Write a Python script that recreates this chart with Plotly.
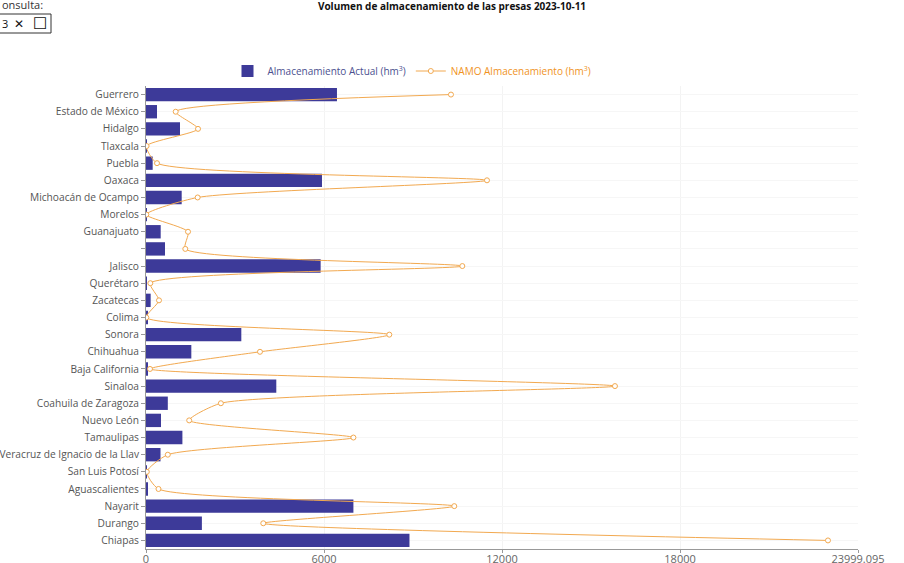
import plotly.graph_objects as go

# categories listed bottom to top (plotly draws first category at the bottom)
estados = [
    "Chiapas", "Durango", "Nayarit", "Aguascalientes", "San Luis Potosí",
    "Veracruz de Ignacio de la Llav", "Tamaulipas", "Nuevo León",
    "Coahuila de Zaragoza", "Sinaloa", "Baja California", "Chihuahua",
    "Sonora", "Colima", "Zacatecas", "Querétaro", "Jalisco", " ",
    "Guanajuato", "Morelos", "Michoacán de Ocampo", "Oaxaca", "Puebla",
    "Tlaxcala", "Hidalgo", "Estado de México", "Guerrero",
]
almacenamiento_actual = [
    8881, 1884, 6991, 60, 5,
    489, 1227, 505,
    735, 4392, 45, 1528,
    3213, 40, 157, 30, 5887, 640,
    495, 8, 1203, 5932, 225,
    30, 1146, 371, 6437,
]
namo_almacenamiento = [
    22987, 3953, 10391, 421, 27,
    735, 6991, 1456,
    2524, 15807, 135, 3842,
    8201, 10, 438, 146, 10662, 1325,
    1416, 10, 1741, 11493, 371,
    20, 1753, 1001, 10280,
]
x_max = 23999.095
x_ticks = [0, 6000, 12000, 18000, x_max]
x_tick_labels = ["0", "6000", "12000", "18000", "23999.095"]

W, H = 904, 563
L, R, T, B = 146, 858, 86, 549

def px(x):
    return (x - L) / (R - L)

def py(y):
    return (B - y) / (B - T)

FONT = "Open Sans, Noto Sans, sans-serif"

fig = go.Figure()
fig.add_trace(go.Bar(
    y=estados, x=almacenamiento_actual, orientation="h",
    name="Almacenamiento Actual (hm<sup>3</sup>)",
    marker=dict(color="#3d3a99", line=dict(width=0)),
))
fig.add_trace(go.Scatter(
    y=estados, x=namo_almacenamiento, mode="lines+markers",
    name='<span style="color:#f0931e">NAMO Almacenamiento (hm<sup>3</sup>)</span>',
    line=dict(color="#f2a950", width=1, shape="spline", smoothing=0.6),
    marker=dict(symbol="circle", size=5, color="white",
                line=dict(color="#f2a950", width=1)),
))

fig.update_layout(
    width=W, height=H,
    margin=dict(l=L, r=W - R, t=T, b=H - B, pad=0, autoexpand=False),
    paper_bgcolor="white", plot_bgcolor="white",
    font=dict(family=FONT, size=10.5, color="#555"),
    bargap=0.22,
    showlegend=True,
    title=dict(text="<b>Volumen de almacenamiento de las presas 2023-10-11</b>",
               x=0.5, xref="container", xanchor="center",
               y=1 - 6 / H, yref="container", yanchor="middle",
               font=dict(size=10, color="#111", family=FONT)),
    legend=dict(orientation="h", x=px(412), xanchor="center",
                y=py(71), yanchor="middle",
                font=dict(size=10, color="#4b4f8f", family=FONT),
                itemwidth=30, traceorder="normal",
                bgcolor="rgba(0,0,0,0)"),
    xaxis=dict(range=[0, x_max], tickvals=x_ticks, ticktext=x_tick_labels,
               showgrid=True, gridcolor="#f3f3f3", zeroline=False,
               showline=True, linecolor="#999", linewidth=1,
               ticks="outside", ticklen=3, tickcolor="#999",
               ticklabelstandoff=-3,
               tickfont=dict(size=11, color="#666", family=FONT),
               fixedrange=True, automargin=False),
    yaxis=dict(type="category", categoryorder="array", categoryarray=estados,
               range=[-0.5, len(estados) - 0.5],
               showgrid=True, gridcolor="#f6f6f6",
               showline=True, linecolor="#999", linewidth=1,
               ticks="outside", ticklen=4, tickcolor="#999",
               tickfont=dict(size=10.2, color="#555", family=FONT),
               automargin=False, fixedrange=True),
)

# date input widget on top-left (page element in the original)
fig.add_annotation(text="onsulta:", xref="paper", yref="paper",
                   x=px(0), y=py(5), xanchor="left", yanchor="middle",
                   showarrow=False, font=dict(size=11, color="#333", family=FONT))
fig.add_shape(type="rect", xref="paper", yref="paper",
              x0=px(-2), x1=px(51), y0=py(33), y1=py(14),
              line=dict(color="#333", width=1), fillcolor="white")
fig.add_annotation(text="3", xref="paper", yref="paper",
                   x=px(0), y=py(23.5), xanchor="left", yanchor="middle",
                   showarrow=False, font=dict(size=11, color="#111", family=FONT))
fig.add_annotation(text="✕", xref="paper", yref="paper",
                   x=px(19), y=py(23.5), xanchor="center", yanchor="middle",
                   showarrow=False, font=dict(size=12, color="#111",
                                              family="DejaVu Sans"))
fig.add_annotation(text="☐", xref="paper", yref="paper",
                   x=px(40), y=py(23.5), xanchor="center", yanchor="middle",
                   showarrow=False, font=dict(size=16, color="#111",
                                              family="DejaVu Sans"))

fig.write_html(
    "out.html",
    config={"displayModeBar": False},
    post_script="document.body.style.margin='0';document.body.style.overflow='hidden';",
)
